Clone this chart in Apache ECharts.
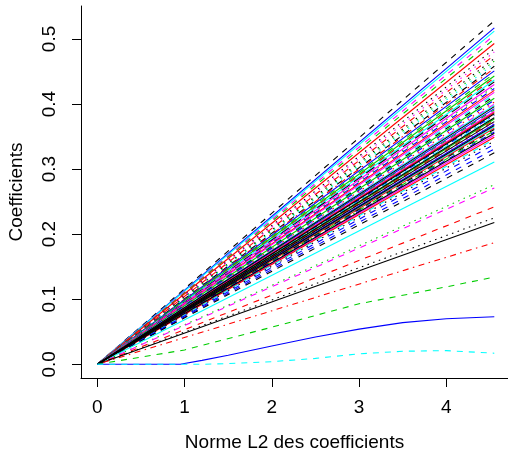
<!DOCTYPE html>
<html>
<head>
<meta charset="utf-8">
<script src="https://cdn.jsdelivr.net/npm/echarts@6/dist/echarts.min.js"></script>
<style>html,body{margin:0;padding:0;background:#fff;}#c{width:508px;height:451px;}</style>
</head>
<body>
<div id="c"></div>
<script>
// ---- DATA ----
const xTicks = [0, 1, 2, 3, 4];
const yTicks = [0, 0.1, 0.2, 0.3, 0.4, 0.5];
const normEnd = 4.55;            // largest L2 norm reached by the paths
// final coefficient value (at normEnd) of each straight path, from top to bottom
const straightEnds = [
  0.528, 0.517, 0.512, 0.506, 0.500, 0.493, 0.485, 0.480, 0.475, 0.470,
  0.466, 0.462, 0.458, 0.455, 0.451, 0.447, 0.443, 0.440, 0.437, 0.434,
  0.430, 0.427, 0.424, 0.421, 0.418, 0.415, 0.412, 0.409, 0.406, 0.403,
  0.400, 0.398, 0.393, 0.391, 0.389, 0.387, 0.383, 0.381, 0.377, 0.375,
  0.371, 0.369, 0.365, 0.363, 0.361, 0.359, 0.357, 0.352, 0.349, 0.346,
  0.343, 0.338, 0.331, 0.325, 0.311, 0.276, 0.271,
  0.242, 0.225, 0.218, 0.187,
  0.396, 0.385, 0.379, 0.373, 0.367, 0.355
];
// curved paths (norm, coefficient)
const curveGreenNorm = [0, 1, 2, 3, 4, 4.55];
const curveGreenCoef = [0, 0.022, 0.057, 0.093, 0.119, 0.134];
const curveBlueNorm = [0, 0.95, 1.2, 1.5, 2, 2.5, 3, 3.5, 4, 4.55];
const curveBlueCoef = [0, 0, 0.006, 0.014, 0.028, 0.042, 0.054, 0.064, 0.070, 0.073];
const curveCyanNorm = [0, 1.2, 1.5, 2, 2.5, 3, 3.5, 4, 4.55];
const curveCyanCoef = [0, 0, 0.001, 0.004, 0.009, 0.016, 0.020, 0.021, 0.017];

// ---- STYLES ----
const straightCol = [
  'k','b','c','m','g','r','k','m','r','k',
  'g','c','k','r','b','g','g','r','c','k',
  'm','g','b','r','m','c','k','g','b','r',
  'm','c','b','g','m','r','b','c','g','r',
  'm','b','c','r','k','g','b','m','r','c',
  'k','b','b','k','c','g','m',
  'r','k','k','r',
  'k','k','k','k','k','k'
];
const straightLty = [
  2,1,1,2,2,1,3,3,2,3,
  3,3,2,4,1,2,1,2,1,5,
  1,3,2,1,1,2,2,1,2,3,
  2,1,1,2,1,1,4,2,1,2,
  3,1,1,1,2,4,2,1,1,2,
  3,2,2,2,1,3,2,
  2,3,1,4,
  1,1,1,1,1,1
];
const COLORS = {k:'#000000', r:'#FF0000', g:'#00CD00', b:'#0000FF', c:'#00FFFF', m:'#FF00FF'};
const DASH = {1:'solid', 2:[6,6], 3:[1.5,4.5], 4:[1.5,4.5,6,4.5], 5:[10,5]};
const FONT = "'Liberation Sans', Arial, sans-serif";

function mk(data, col, lty) {
  return {
    type: 'line', data: data, showSymbol: false, symbol: 'none', silent: true,
    lineStyle: {color: COLORS[col], width: 1.1, type: DASH[lty]},
    z: 2
  };
}
const series = [];
straightEnds.forEach((v, i) => {
  series.push(mk([[0, 0], [normEnd, v]], straightCol[i], straightLty[i]));
});
series.push(mk(curveGreenNorm.map((x, i) => [x, curveGreenCoef[i]]), 'g', 2));
series.push(mk(curveBlueNorm.map((x, i) => [x, curveBlueCoef[i]]), 'b', 1));
series.push(mk(curveCyanNorm.map((x, i) => [x, curveCyanCoef[i]]), 'c', 2));

const chart = echarts.init(document.getElementById('c'), null, {renderer: 'canvas'});
chart.setOption({
  animation: false,
  backgroundColor: '#ffffff',
  textStyle: {fontFamily: FONT},
  grid: {left: 81, right: 0, top: 6, bottom: 73, containLabel: false, outerBoundsMode: 'none'},
  xAxis: {
    type: 'value', min: -0.187, max: 4.707,
    name: 'Norme L2 des coefficients', nameLocation: 'middle', nameGap: 55,
    nameTextStyle: {color: '#000', fontSize: 19, fontFamily: FONT},
    axisLine: {show: true, onZero: false, lineStyle: {color: '#000', width: 1}},
    axisTick: {show: true, length: 9, customValues: xTicks, lineStyle: {color: '#000'}},
    axisLabel: {customValues: xTicks, color: '#000', fontSize: 19, fontFamily: FONT, margin: 20,
      formatter: v => String(v)},
    splitLine: {show: false}
  },
  yAxis: {
    type: 'value', min: -0.0211, max: 0.5507,
    name: 'Coefficients', nameLocation: 'middle', nameGap: 55,
    nameTextStyle: {color: '#000', fontSize: 19, fontFamily: FONT},
    axisLine: {show: true, onZero: false, lineStyle: {color: '#000', width: 1}},
    axisTick: {show: true, length: 9, customValues: yTicks, lineStyle: {color: '#000'}},
    axisLabel: {customValues: yTicks, color: '#000', fontSize: 19, fontFamily: FONT, margin: 22, rotate: 90,
      formatter: v => v.toFixed(1)},
    splitLine: {show: false}
  },
  series: series
});
</script>
</body>
</html>
